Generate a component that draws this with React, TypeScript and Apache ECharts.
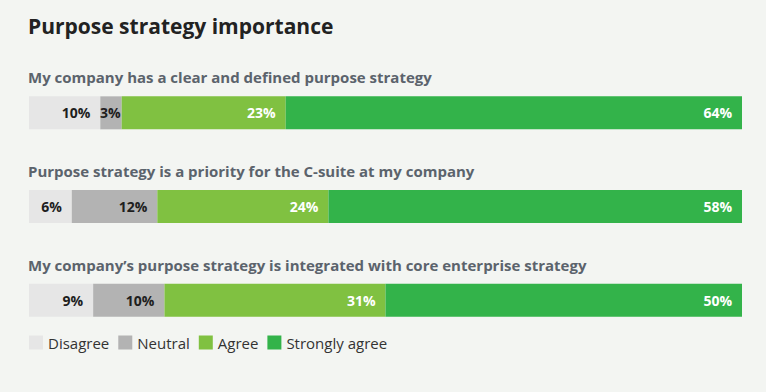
import React, { useEffect, useRef } from "react";
import * as echarts from "echarts";

const questions = [
  "My company has a clear and defined purpose strategy",
  "Purpose strategy is a priority for the C-suite at my company",
  "My company’s purpose strategy is integrated with core enterprise strategy",
];
const seriesNames = ["Disagree", "Neutral", "Agree", "Strongly agree"];
const disagree = [10, 6, 9];
const neutral = [3, 12, 10];
const agree = [23, 24, 31];
const stronglyAgree = [64, 58, 50];
const colors = ["#e6e6e6", "#b3b3b3", "#80c141", "#33b34a"];
const labelColors = ["#1e1e1e", "#1e1e1e", "#ffffff", "#ffffff"];

export default function App() {
  const ref = useRef<HTMLDivElement>(null);
  useEffect(() => {
    document.body.style.margin = "0";
    document.body.style.background = "#f3f5f2";
    if (!ref.current) return;
    const chart = echarts.init(ref.current, null, { renderer: "svg" });
    const values = [disagree, neutral, agree, stronglyAgree];
    const font = "'Open Sans', 'Noto Sans', sans-serif";
    const gridTop = 66;
    const gridBottom = 45;
    const band = (392 - gridTop - gridBottom) / questions.length;
    chart.setOption({
      animation: false,
      backgroundColor: "#f3f5f2",
      title: {
        text: "Purpose strategy importance",
        left: 23,
        top: 10,
        textStyle: { fontFamily: font, fontSize: 21, fontWeight: "bold", color: "#222222" },
      },
      legend: {
        data: seriesNames,
        left: 24,
        top: 330,
        itemWidth: 14,
        itemHeight: 14,
        itemGap: 9,
        icon: "rect",
        textStyle: { fontFamily: font, fontSize: 15, color: "#333333" },
      },
      grid: { left: 29, right: 24, top: gridTop, bottom: gridBottom },
      xAxis: { type: "value", min: 0, max: 100, show: false },
      yAxis: {
        type: "category",
        data: questions,
        inverse: true,
        show: false,
      },
      graphic: questions.map((q, i) => ({
        type: "text",
        left: 28,
        top: gridTop + band * i + band / 2 - 43,
        style: {
          text: q,
          font: `bold 15px ${font}`,
          fill: "#5b636c",
        },
      })),
      series: seriesNames.map((name, si) => ({
        name,
        type: "bar",
        stack: "total",
        barWidth: 33,
        data: values[si].map((v) =>
          v < 5 ? { value: v, label: { distance: 1 } } : v
        ),
        itemStyle: { color: colors[si] },
        label: {
          show: true,
          position: "insideRight",
          distance: 10,
          formatter: "{c}%",
          fontFamily: font,
          fontSize: 14,
          fontWeight: "bold",
          color: labelColors[si],
        },
      })),
    });
    return () => chart.dispose();
  }, []);
  return <div ref={ref} style={{ width: 766, height: 392 }} />;
}
